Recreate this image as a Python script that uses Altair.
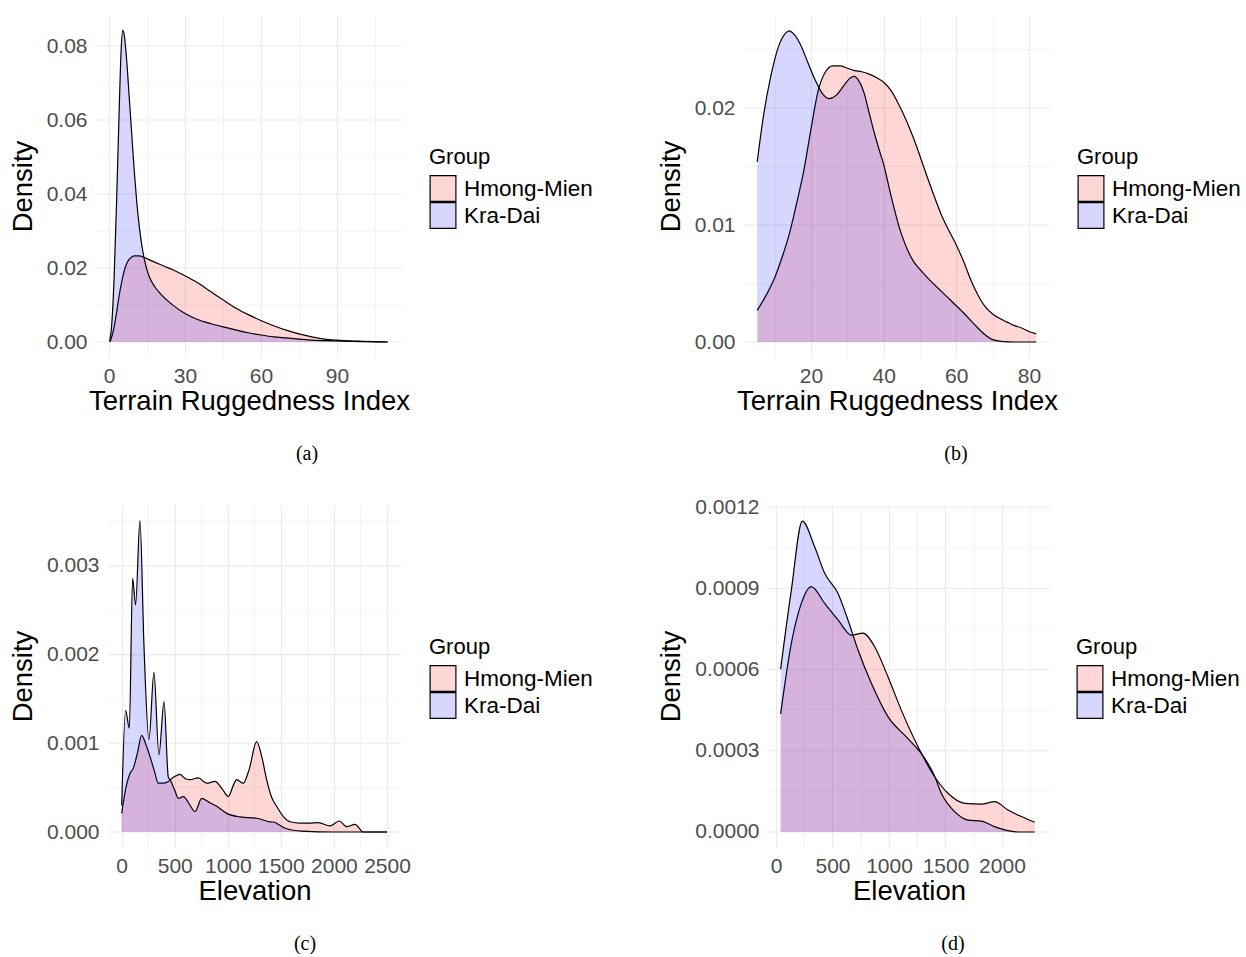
import altair as alt
import pandas as pd

GROUPS = ["Hmong-Mien", "Kra-Dai"]
FILLS = ["rgba(255,0,0,0.16)", "rgba(0,0,255,0.16)"]

# ---------------- (a) Terrain Ruggedness Index, all ----------------
a_hm_x = [0.3, 1, 2, 3, 4, 5, 6, 7, 8, 9, 10, 12, 14, 16, 18, 20, 22, 25, 28, 30, 35, 40, 45,
          50, 55, 60, 65, 70, 75, 80, 85, 90, 95, 100, 110]
a_hm_y = [0.0, 0.0012, 0.004, 0.008, 0.0125, 0.0162, 0.0192, 0.0212, 0.0224, 0.0230, 0.0233,
          0.0233, 0.0228, 0.0222, 0.0216, 0.0210, 0.0204, 0.0196, 0.0186, 0.0179, 0.0160, 0.0137,
          0.0114, 0.0092, 0.0074, 0.0058, 0.0044, 0.0032, 0.0022, 0.0014, 0.0008, 0.0005, 0.0003,
          0.0002, 0.0]
a_kd_x = [0.3, 1, 2, 3, 4, 4.8, 5.4, 6, 7, 8, 9, 10, 11, 12, 13, 14, 15, 16, 18, 20, 25, 30,
          35, 40, 45, 50, 55, 60, 65, 70, 75, 80, 90, 100, 110]
a_kd_y = [0.0002, 0.004, 0.017, 0.038, 0.062, 0.079, 0.0842, 0.083, 0.076, 0.066, 0.056, 0.046,
          0.0375, 0.031, 0.026, 0.0222, 0.0195, 0.0175, 0.0150, 0.0133, 0.0101, 0.0077, 0.0061,
          0.0050, 0.0041, 0.0033, 0.0025, 0.0019, 0.0014, 0.0011, 0.0008, 0.0005, 0.0003, 0.0001,
          0.0]

# ---------------- (b) Terrain Ruggedness Index, subset ----------------
b_hm_x = [5.2, 8, 10, 12, 14, 16, 18, 20, 22, 24, 26, 28, 30, 32, 34, 36, 38, 40, 42, 44, 46,
          48, 50, 52, 54, 56, 58, 60, 62, 64, 66, 68, 70, 72, 74, 76, 78, 80, 82]
b_hm_y = [0.0027, 0.0042, 0.0055, 0.0072, 0.0092, 0.0118, 0.0146, 0.0182, 0.0215, 0.0231,
          0.0236, 0.0236, 0.0234, 0.0232, 0.0231, 0.0229, 0.0226, 0.0222, 0.0215, 0.0204, 0.0191,
          0.0176, 0.0159, 0.0141, 0.0124, 0.0108, 0.0095, 0.0083, 0.0069, 0.0053, 0.0040, 0.0030,
          0.0024, 0.0020, 0.0017, 0.0014, 0.0012, 0.0009, 0.0007]
b_kd_x = [5.2, 7, 9, 11, 13, 14, 15, 17, 19, 21, 23, 25, 27, 29, 31, 32, 33, 34.5, 36, 37.5, 39,
          40, 41.5, 43, 44.5, 46, 48, 50, 53, 56, 59, 62, 65, 68, 70, 73, 76, 82]
b_kd_y = [0.0154, 0.0195, 0.0228, 0.0252, 0.0264, 0.0266, 0.0264, 0.0255, 0.0240, 0.0225,
          0.0213, 0.0208, 0.0211, 0.0219, 0.0226, 0.0227, 0.0224, 0.0214, 0.0196, 0.0178, 0.0162,
          0.0152, 0.0132, 0.0113, 0.0096, 0.0083, 0.0070, 0.0062, 0.0052, 0.0043, 0.0034, 0.0025,
          0.0015, 0.0006, 0.0002, 0.00003, 0.0, 0.0]

# ---------------- (c) Elevation, all ----------------
c_hm_x = [0, 40, 78, 110, 150, 188, 230, 267, 310, 345, 390, 440, 490, 549, 600, 644, 722, 801,
          879, 950, 1005, 1050, 1083, 1146, 1200, 1272, 1320, 1366, 1410, 1460, 1520, 1586, 1680,
          1760, 1853, 1963, 2051, 2120, 2198, 2277, 2350, 2500]
c_hm_y = [0.00021, 0.0005, 0.00066, 0.00072, 0.0009, 0.00109, 0.00098, 0.00085, 0.00068,
          0.00055, 0.00055, 0.00057, 0.00062, 0.00065, 0.0006, 0.00059, 0.00061, 0.00055, 0.00057,
          0.00048, 0.0004, 0.00052, 0.00059, 0.00055, 0.0007, 0.00102, 0.00085, 0.00059, 0.0004,
          0.00029, 0.00018, 0.000116, 0.0001, 0.0001, 0.000105, 0.00007, 0.000124, 0.00006,
          0.000087, 0.0, 0.0, 0.0]
c_kd_x = [0, 37, 72, 103, 131, 172, 210, 257, 304, 351, 399, 439, 460, 500, 534, 581, 640, 691,
          754, 832, 895, 989, 1115, 1272, 1397, 1440, 1470, 1550, 1700, 2000, 2500]
c_kd_y = [0.0003, 0.00137, 0.00117, 0.00286, 0.00256, 0.00351, 0.0021, 0.00104, 0.0018,
          0.00087, 0.00147, 0.00062, 0.00058, 0.00047, 0.00038, 0.0004, 0.00031, 0.00023, 0.00038,
          0.00033, 0.00029, 0.00021, 0.00017, 0.000155, 0.000115, 0.00011, 0.00009, 0.00004,
          0.00001, 0.0, 0.0]

# ---------------- (d) Elevation, subset ----------------
d_hm_x = [41, 136, 224, 313, 431, 549, 667, 770, 873, 991, 1109, 1257, 1404, 1522, 1670, 1817,
          1935, 2053, 2171, 2289]
d_hm_y = [0.000436, 0.000697, 0.000844, 0.000906, 0.000844, 0.000783, 0.000727, 0.000734,
          0.000684, 0.000573, 0.00045, 0.000315, 0.000204, 0.000143, 0.000106, 0.000103,
          0.000112, 0.000081, 0.000057, 0.000036]
d_kd_x = [41, 136, 233, 342, 431, 549, 637, 726, 844, 991, 1168, 1316, 1400, 1463, 1581, 1699,
          1817, 1935, 2053, 2150, 2290]
d_kd_y = [0.000602, 0.000894, 0.001148, 0.001053, 0.000955, 0.000881, 0.000783, 0.000672,
          0.000549, 0.000426, 0.000345, 0.000272, 0.00021, 0.000143, 0.000075, 0.000044, 0.00004,
          0.00002, 0.000005, 0.0, 0.0]

SANS = "Liberation Sans"
SERIF = "Liberation Serif"
GRID = "#EBEBEB"


def major_test(step):
    return f"abs(datum.value/{step} - round(datum.value/{step})) < 1e-6"


def panel(hm_x, hm_y, kd_x, kd_y, xdom, ydom, xmaj, xmin, ymaj, ymin, yfmt, w, h, yext,
          xtitle, lead, legx, caption, capdx):
    df = pd.DataFrame({
        "x": hm_x + kd_x,
        "y": hm_y + kd_y,
        "Group": [GROUPS[0]] * len(hm_x) + [GROUPS[1]] * len(kd_x),
    })
    # horizontal grid lines span only the panel's own data range
    gy = sorted(ymaj + ymin)
    gdf = pd.DataFrame({
        "gx1": [xdom[0]] * len(gy),
        "gx2": [xdom[1]] * len(gy),
        "gy": gy,
        "major": [v in ymaj for v in gy],
    })
    # extend plot to the left by `lead` pixels (empty margin)
    ppu = w / (xdom[1] - xdom[0])
    xlo = xdom[0] - lead / ppu
    xstep = xmaj[1] - xmaj[0]
    ystep = ymaj[1] - ymaj[0]
    xaxis = alt.Axis(
        values=sorted(xmaj + xmin), format="d", title=xtitle,
        labelExpr=f"{major_test(xstep)} ? datum.label : ''",
        gridWidth={"condition": {"test": major_test(xstep), "value": 1.1}, "value": 0.55},
        labelPadding=8, titlePadding=1, labelOverlap=False, labelFlush=False,
        titleX=lead + w / 2,
    )
    yaxis = alt.Axis(
        values=gy, format=yfmt, title="Density", grid=False,
        labelExpr=f"{major_test(ystep)} ? datum.label : ''",
        labelPadding=9, titlePadding=6, minExtent=yext, maxExtent=yext,
        labelOverlap=False, offset=-lead,
    )
    xs = alt.Scale(domain=[xlo, xdom[1]], nice=False, zero=False)
    ys = alt.Scale(domain=ydom, nice=False, zero=False)
    ex = alt.X("x:Q", scale=xs, axis=xaxis)
    ey = alt.Y("y:Q", scale=ys, axis=yaxis)
    fill = alt.Fill(
        "Group:N",
        scale=alt.Scale(domain=GROUPS, range=FILLS),
        legend=alt.Legend(title="Group", orient="none", legendX=legx, legendY=132),
    )
    grid = alt.Chart(gdf)
    layers = [
        grid.transform_filter("datum.major").mark_rule(color=GRID, strokeWidth=1.1).encode(
            x=alt.X("gx1:Q", scale=xs, axis=xaxis), x2="gx2:Q",
            y=alt.Y("gy:Q", scale=ys, axis=yaxis)),
        grid.transform_filter("!datum.major").mark_rule(color=GRID, strokeWidth=0.55).encode(
            x=alt.X("gx1:Q", scale=xs, axis=xaxis), x2="gx2:Q",
            y=alt.Y("gy:Q", scale=ys, axis=yaxis)),
    ]
    base = alt.Chart(df)
    for g in GROUPS:
        sub = base.transform_filter(alt.datum.Group == g)
        layers.append(sub.mark_area(interpolate="monotone").encode(
            x=ex, y=ey, y2=alt.datum(0), fill=fill))
        layers.append(sub.mark_line(interpolate="monotone", color="black", strokeWidth=1.2)
                      .encode(x=ex, y=ey))
    return alt.layer(*layers).properties(
        width=w + lead, height=h,
        title=alt.TitleParams(text=caption, orient="bottom", anchor="middle", frame="group",
                              dx=capdx, offset=29, font=SERIF, fontSize=20,
                              fontWeight="normal", color="black"),
    )


pa = panel(a_hm_x, a_hm_y, a_kd_x, a_kd_y, [-5.13, 115.7], [-0.00405, 0.08838],
           [0, 30, 60, 90], [15, 45, 75, 105], [0, 0.02, 0.04, 0.06, 0.08],
           [0.01, 0.03, 0.05, 0.07], ".2f", 306, 342, 53,
           "Terrain Ruggedness Index", 0, 333, "(a)", 58)
pb = panel(b_hm_x, b_hm_y, b_kd_x, b_kd_y, [1.56, 85.8], [-0.001282, 0.027949],
           [20, 40, 60, 80], [10, 30, 50, 70], [0, 0.01, 0.02],
           [0.005, 0.015, 0.025], ".2f", 306, 342, 53,
           "Terrain Ruggedness Index", 0, 333, "(b)", 59)
pc = panel(c_hm_x, c_hm_y, c_kd_x, c_kd_y, [-129, 2632], [-0.000169, 0.0036866],
           [0, 500, 1000, 1500, 2000, 2500], [250, 750, 1250, 1750, 2250],
           [0, 0.001, 0.002, 0.003], [0.0005, 0.0015, 0.0025, 0.0035], ".3f", 293, 342, 65,
           "Elevation", 12, 333, "(c)", 56.5)
pd_ = panel(d_hm_x, d_hm_y, d_kd_x, d_kd_y, [-70.8, 2425], [-0.0000554, 0.0012074],
            [0, 500, 1000, 1500, 2000], [250, 750, 1250, 1750, 2250],
            [0, 0.0003, 0.0006, 0.0009, 0.0012], [0.00015, 0.00045, 0.00075, 0.00105],
            ".4f", 282, 342, 77, "Elevation", 25, 333, "(d)", 56.5)

chart = alt.concat(
    pa, pb, pc, pd_, columns=2,
    spacing={"row": 32, "column": 64},
    align={"row": "each", "column": "none"},
).resolve_scale(
    x="independent", y="independent", fill="independent"
).resolve_legend(fill="independent").properties(
    padding={"left": 9, "top": 15, "right": 0, "bottom": 0}
).configure(background="white").configure_view(stroke=None).configure_axis(
    domain=False, ticks=False, gridColor=GRID,
    labelFont=SANS, titleFont=SANS, labelFontSize=21, titleFontSize=27.5,
    labelColor="#4D4D4D", titleColor="black", titleFontWeight="normal",
).configure_legend(
    titleFont=SANS, labelFont=SANS, titleFontSize=22, labelFontSize=22.5,
    titleFontWeight="normal", titleColor="black", labelColor="black",
    symbolType="square", symbolSize=666, symbolStrokeColor="black", symbolStrokeWidth=1.2,
    rowPadding=0, clipHeight=27, labelOffset=7, titlePadding=6, padding=0,
)

chart.save("out.html", embed_options={"renderer": "svg", "actions": False})
